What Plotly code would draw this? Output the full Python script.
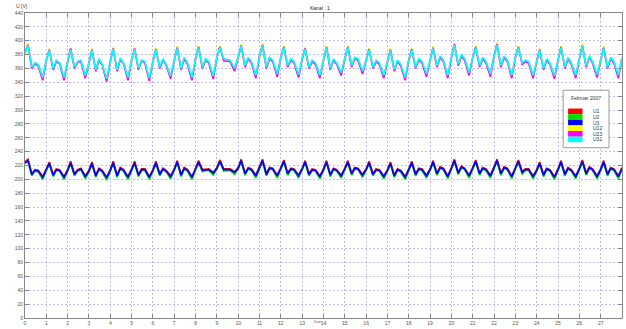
import plotly.graph_objects as go

# ---------------- data ----------------
DAYS = 28
FRACS = [0.0, 0.14, 0.32, 0.47, 0.62, 0.83]   # sampling instants within each day

U31 = [
    382, 393, 362, 368, 366, 347,
    372, 386, 360, 372, 368, 347,
    370, 387, 362, 370, 372, 350,
    368, 386, 358, 374, 366, 345,
    370, 388, 358, 375, 368, 347,
    372, 388, 360, 372, 370, 346,
    370, 387, 362, 374, 366, 349,
    372, 389, 360, 376, 368, 347,
    374, 390, 362, 374, 370, 349,
    376, 390, 374, 373, 372, 360,
    376, 392, 364, 376, 370, 350,
    378, 393, 362, 376, 372, 352,
    376, 390, 364, 374, 370, 351,
    374, 388, 362, 372, 368, 350,
    372, 390, 360, 374, 368, 354,
    374, 390, 364, 376, 374, 356,
    372, 387, 362, 372, 368, 350,
    370, 386, 358, 372, 366, 347,
    372, 387, 362, 374, 370, 352,
    372, 389, 364, 378, 372, 350,
    376, 394, 366, 380, 374, 354,
    376, 390, 364, 376, 370, 352,
    378, 394, 364, 378, 372, 350,
    376, 390, 368, 372, 370, 350,
    370, 386, 360, 374, 368, 349,
    372, 390, 362, 376, 368, 350,
    374, 392, 364, 378, 370, 351,
    372, 389, 362, 376, 370, 350,
    375,
]
U12 = [
    381, 396, 361, 367, 365, 345,
    371, 389, 359, 371, 367, 345,
    369, 390, 361, 369, 371, 348,
    367, 389, 357, 373, 365, 343,
    369, 391, 357, 374, 367, 345,
    371, 391, 359, 371, 369, 344,
    369, 390, 361, 373, 365, 347,
    371, 392, 359, 375, 367, 345,
    373, 393, 361, 373, 369, 347,
    375, 393, 373, 372, 371, 358,
    375, 395, 363, 375, 369, 348,
    377, 396, 361, 375, 371, 350,
    375, 393, 363, 373, 369, 349,
    373, 391, 361, 371, 367, 348,
    371, 393, 359, 373, 367, 352,
    373, 393, 363, 375, 373, 354,
    371, 390, 361, 371, 367, 348,
    369, 389, 357, 371, 365, 345,
    371, 390, 361, 373, 369, 350,
    371, 392, 363, 377, 371, 348,
    375, 397, 365, 379, 373, 352,
    375, 393, 363, 375, 369, 350,
    377, 398, 363, 377, 371, 348,
    375, 393, 367, 371, 369, 348,
    369, 389, 359, 373, 367, 347,
    371, 393, 361, 375, 367, 348,
    373, 396, 363, 377, 369, 349,
    371, 392, 361, 375, 369, 348,
    374,
]
U23 = [
    383, 394, 360, 367, 364, 343,
    372, 387, 358, 370, 367, 343,
    370, 389, 360, 369, 370, 346,
    368, 387, 356, 372, 365, 341,
    370, 389, 356, 373, 367, 343,
    372, 389, 358, 371, 368, 342,
    370, 388, 360, 372, 365, 345,
    372, 390, 358, 374, 366, 343,
    374, 391, 360, 372, 368, 345,
    376, 391, 371, 371, 370, 356,
    376, 393, 362, 374, 368, 346,
    378, 394, 360, 374, 370, 348,
    376, 391, 362, 372, 368, 347,
    374, 389, 360, 370, 366, 346,
    372, 391, 358, 372, 366, 350,
    374, 391, 362, 374, 372, 352,
    372, 388, 360, 370, 366, 346,
    370, 387, 356, 370, 364, 343,
    372, 388, 360, 372, 368, 348,
    372, 390, 362, 376, 370, 346,
    376, 395, 364, 378, 372, 350,
    376, 391, 362, 374, 368, 348,
    378, 395, 362, 376, 370, 346,
    376, 391, 366, 370, 368, 346,
    370, 387, 358, 372, 366, 345,
    372, 391, 360, 374, 366, 346,
    374, 393, 362, 376, 368, 347,
    372, 390, 360, 374, 368, 346,
    375,
]
U3 = [
    224, 227, 207, 213, 212, 203,
    214, 223, 206, 214, 213, 203,
    213, 224, 207, 213, 215, 204,
    212, 223, 205, 215, 212, 202,
    213, 224, 205, 216, 213, 203,
    214, 224, 206, 214, 214, 203,
    213, 224, 207, 215, 212, 204,
    214, 225, 206, 216, 213, 203,
    215, 225, 213, 214, 214, 209,
    216, 226, 214, 214, 214, 210,
    216, 227, 208, 216, 214, 205,
    217, 227, 207, 216, 215, 205,
    216, 226, 208, 215, 214, 205,
    215, 225, 207, 214, 213, 204,
    214, 225, 206, 215, 213, 205,
    215, 225, 208, 216, 215, 206,
    214, 224, 207, 214, 213, 204,
    213, 223, 205, 214, 212, 203,
    214, 224, 207, 215, 214, 205,
    214, 225, 208, 217, 215, 204,
    216, 227, 209, 218, 215, 205,
    216, 226, 208, 216, 214, 205,
    217, 227, 208, 217, 215, 204,
    216, 226, 210, 214, 214, 204,
    213, 223, 206, 215, 213, 203,
    214, 225, 207, 216, 213, 204,
    215, 226, 208, 217, 214, 204,
    214, 225, 207, 216, 214, 204,
    216,
]
U1 = [
    225, 229, 208, 214, 213, 204,
    215, 225, 207, 215, 214, 204,
    214, 226, 208, 214, 216, 205,
    213, 225, 206, 216, 213, 203,
    214, 226, 206, 217, 214, 204,
    215, 226, 207, 215, 215, 204,
    214, 226, 208, 216, 213, 205,
    215, 227, 207, 217, 214, 204,
    216, 227, 214, 215, 215, 210,
    217, 228, 215, 215, 215, 211,
    217, 229, 209, 217, 215, 206,
    218, 229, 208, 217, 216, 206,
    217, 228, 209, 216, 215, 206,
    216, 227, 208, 215, 214, 205,
    215, 227, 207, 216, 214, 206,
    216, 227, 209, 217, 216, 207,
    215, 226, 208, 215, 214, 205,
    214, 225, 206, 215, 213, 204,
    215, 226, 208, 216, 215, 206,
    215, 227, 209, 218, 216, 205,
    217, 229, 210, 219, 216, 206,
    217, 228, 209, 217, 215, 206,
    218, 229, 209, 218, 216, 205,
    217, 228, 211, 215, 215, 205,
    214, 225, 207, 216, 214, 204,
    215, 227, 208, 217, 214, 205,
    216, 228, 209, 218, 215, 205,
    215, 227, 208, 217, 215, 205,
    217,
]
U2 = [
    223, 226, 205, 212, 211, 200,
    213, 222, 204, 213, 212, 200,
    212, 223, 205, 212, 214, 201,
    211, 222, 203, 214, 211, 199,
    212, 223, 203, 215, 212, 200,
    213, 223, 204, 213, 213, 200,
    212, 223, 205, 214, 211, 201,
    213, 224, 204, 215, 212, 200,
    214, 224, 211, 213, 213, 206,
    215, 225, 212, 213, 213, 207,
    215, 226, 206, 215, 213, 202,
    216, 226, 205, 215, 214, 202,
    215, 225, 206, 214, 213, 202,
    214, 224, 205, 213, 212, 201,
    213, 224, 204, 214, 212, 202,
    214, 224, 206, 215, 214, 203,
    213, 223, 205, 213, 212, 201,
    212, 222, 203, 213, 211, 200,
    213, 223, 205, 214, 213, 202,
    213, 224, 206, 216, 214, 201,
    215, 226, 207, 217, 214, 202,
    215, 225, 206, 215, 213, 202,
    216, 226, 206, 216, 214, 201,
    215, 225, 208, 213, 213, 201,
    212, 222, 204, 214, 212, 200,
    213, 224, 205, 215, 212, 201,
    214, 225, 206, 216, 213, 201,
    213, 224, 205, 215, 213, 201,
    215,
]

SERIES = ["U1", "U2", "U3", "U12", "U23", "U31"]
VALUES = [U1, U2, U3, U12, U23, U31]
COLORS = ["#ff0000", "#00e000", "#0000ff", "#ffff00", "#ff00ff", "#00ffff"]
X_TICKS = list(range(0, 28))
Y_TICKS = list(range(0, 441, 20))
TITLE = "Kanal : 1"
Y_LABEL = "U [V]"
X_LABEL = "Dan"
LEGEND_TITLE = "Februar 2007"

# time axis (days)
t = [d + f for d in range(DAYS) for f in FRACS] + [float(DAYS)]

fig = go.Figure()
for name, vals, col in zip(SERIES, VALUES, COLORS):
    fig.add_trace(go.Scatter(x=t, y=vals, mode="lines", name=name,
                             line=dict(color=col, width=1.7), showlegend=False))

W, H = 626, 329
ML, MR, MT, MB = 25, 3, 13, 8
PW, PH = W - ML - MR, H - MT - MB

def px(xp):
    return (xp - ML) / PW

def py(yp):
    return (H - MB - yp) / PH

grid = "rgba(160,160,255,0.7)"
axcol = "#888888"
fig.update_layout(
    width=W, height=H,
    margin=dict(l=ML, r=MR, t=MT, b=MB),
    paper_bgcolor="white", plot_bgcolor="white",
    font=dict(family="Liberation Sans, Arial", size=5, color="#555555"),
    xaxis=dict(range=[0, 28], tickvals=X_TICKS, ticktext=[str(v) for v in X_TICKS],
               showgrid=True, gridcolor=grid, griddash="2px,2px", gridwidth=1,
               showline=True, linecolor=axcol, linewidth=1, mirror="ticks",
               ticks="inside", ticklen=4, tickcolor=axcol, zeroline=False,
               tickfont=dict(size=5, color="#555555")),
    yaxis=dict(range=[0, 440], tickvals=Y_TICKS,
               showgrid=True, gridcolor=grid, griddash="2px,2px", gridwidth=1,
               showline=True, linecolor=axcol, linewidth=1, mirror="ticks",
               ticks="inside", ticklen=4, tickcolor=axcol, zeroline=False,
               tickfont=dict(size=5, color="#555555")),
)

ann = [
    dict(text=TITLE, x=px(320), y=py(8), xref="paper", yref="paper",
         showarrow=False, font=dict(size=5, color="#222222"), xanchor="center", yanchor="middle"),
    dict(text=Y_LABEL, x=px(22), y=py(6), xref="paper", yref="paper",
         showarrow=False, font=dict(size=5, color="#444444"), xanchor="center", yanchor="middle"),
    dict(text=X_LABEL, x=px(318), y=py(329), xref="paper", yref="paper",
         showarrow=False, font=dict(size=4, color="#666666"), xanchor="center", yanchor="bottom"),
    dict(text=LEGEND_TITLE, x=px(587), y=py(99), xref="paper", yref="paper",
         showarrow=False, font=dict(size=5, color="#333333"), xanchor="center", yanchor="middle"),
]
shapes = [
    dict(type="rect", xref="paper", yref="paper", x0=px(564), x1=px(610), y0=py(149), y1=py(91),
         line=dict(color="#999999", width=1), fillcolor="white", layer="above"),
]
sw_top, sw_h = 109.5, 5.67
for i, (name, col) in enumerate(zip(SERIES, COLORS)):
    y0 = sw_top + i * sw_h
    shapes.append(dict(type="rect", xref="paper", yref="paper", x0=px(569), x1=px(583.5),
                       y0=py(y0 + sw_h), y1=py(y0), line=dict(width=0), fillcolor=col, layer="above"))
    ann.append(dict(text=name, x=px(592), y=py(y0 + sw_h / 2), xref="paper", yref="paper",
                    showarrow=False, font=dict(size=5, color="#333333"),
                    xanchor="left", yanchor="middle"))

fig.update_layout(annotations=ann, shapes=shapes)
fig.write_html("out.html")
